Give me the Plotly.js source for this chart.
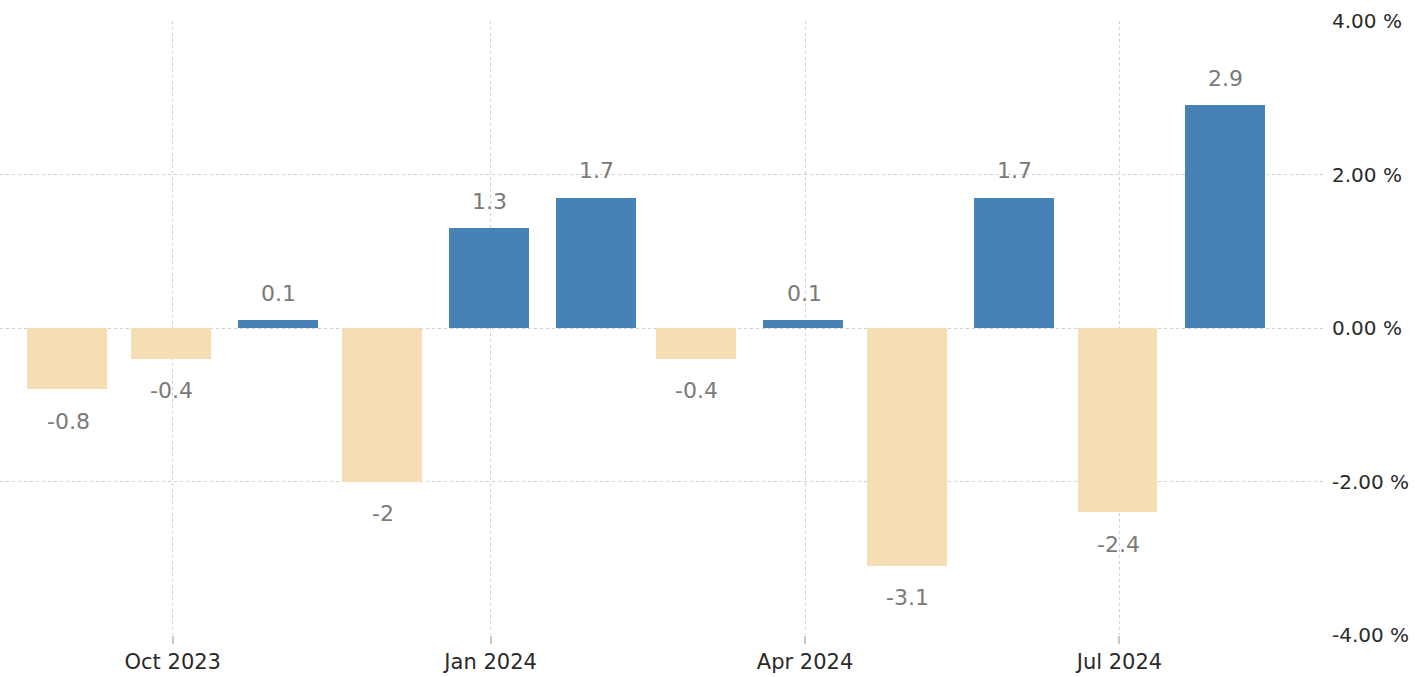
<!DOCTYPE html>
<html>
<head>
<meta charset="utf-8">
<script src="https://cdn.plot.ly/plotly-3.0.1.min.js"></script>
<style>
html,body{margin:0;padding:0;background:#fff;}
#chart{width:1421px;height:677px;}
</style>
</head>
<body>
<div id="chart"></div>
<script>
const months = ['2023-09-01','2023-10-01','2023-11-01','2023-12-01','2024-01-01','2024-02-01','2024-03-01','2024-04-01','2024-05-01','2024-06-01','2024-07-01','2024-08-01'];
const values = [-0.8, -0.4, 0.1, -2, 1.3, 1.7, -0.4, 0.1, -3.1, 1.7, -2.4, 2.9];
const xTickVals = ['2023-10-01','2024-01-01','2024-04-01','2024-07-01'];
const xTickText = ['Oct 2023','Jan 2024','Apr 2024','Jul 2024'];
const yTickVals = [-4, -2, 0, 2, 4];
const yTickText = ['-4.00 %','-2.00 %','0.00 %','2.00 %','4.00 %'];

const POS = '#4682B4', NEG = '#F5DEB3';
const DAY = 86400000;

const trace = {
  type: 'bar',
  x: months,
  y: values,
  width: months.map(() => 23.1 * DAY),
  offset: months.map(() => -12.1 * DAY),
  marker: {color: values.map(v => v >= 0 ? POS : NEG), line: {width: 0}},
  hoverinfo: 'x+y'
};

const annotations = values.map((v, i) => ({
  x: months[i], y: v, xref: 'x', yref: 'y',
  text: String(v),
  showarrow: false,
  xshift: -1,
  yshift: v >= 0 ? 27 : -32,
  font: {family: 'DejaVu Sans', size: 22, color: '#7a7a7a'}
}));

const layout = {
  width: 1421, height: 677,
  margin: {l: 0, r: 96, t: 21, b: 42, pad: 0},
  paper_bgcolor: '#fff', plot_bgcolor: '#fff',
  showlegend: false,
  font: {family: 'DejaVu Sans', size: 20, color: '#333'},
  xaxis: {
    type: 'date',
    range: ['2023-08-12', '2024-08-29 12:00'],
    tickvals: xTickVals, ticktext: xTickText,
    showgrid: true, gridcolor: '#d0d0d0', griddash: 'dot', gridwidth: 1,
    ticks: 'outside', ticklen: 8, tickcolor: '#c8c8c8', tickwidth: 2,
    showline: false, zeroline: false,
    tickfont: {family: 'DejaVu Sans', size: 21, color: '#2a2a2a'}
  },
  yaxis: {
    side: 'right',
    range: [-4, 4],
    tickvals: yTickVals, ticktext: yTickText,
    showgrid: true, gridcolor: '#d0d0d0', griddash: 'dot', gridwidth: 1,
    zeroline: false, showline: false, ticks: '',
    ticklabelstandoff: 6,
    tickfont: {family: 'DejaVu Sans', size: 20, color: '#2a2a2a'}
  },
  annotations: annotations,
  bargap: 0
};

Plotly.newPlot('chart', [trace], layout, {displayModeBar: false, staticPlot: true});
</script>
</body>
</html>
